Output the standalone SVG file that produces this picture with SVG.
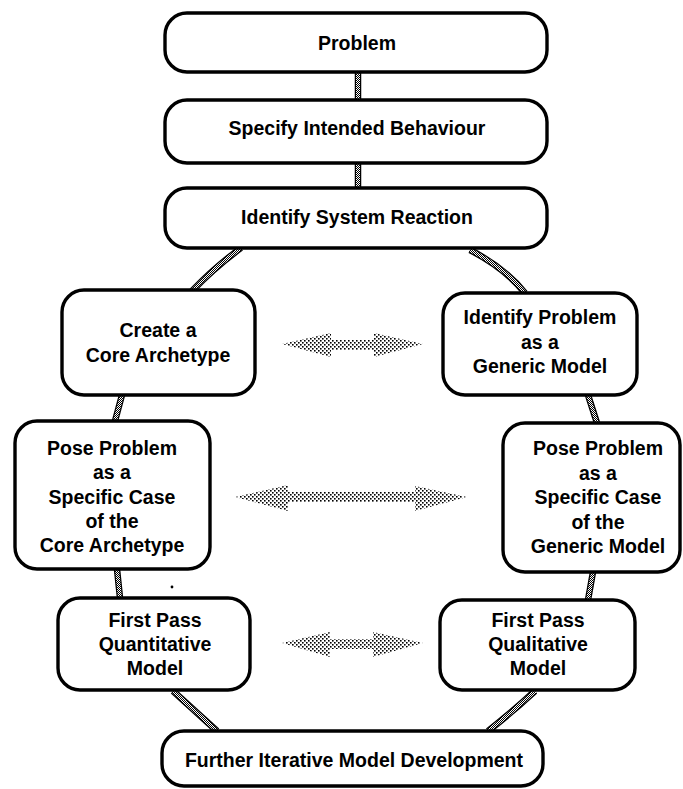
<svg xmlns="http://www.w3.org/2000/svg" width="683" height="789" viewBox="0 0 683 789">
<style>
.box{fill:#fff;stroke:#000;stroke-width:3.4}
.t{font-family:"Liberation Sans",Arial,sans-serif;font-weight:bold;font-size:19.5px;fill:#000;text-anchor:middle}
.conb{fill:none;stroke:#000;stroke-width:6.5}
.con{fill:none;stroke:url(#chk);stroke-width:4}
.arr{fill:url(#dots);stroke:none}
</style>
<defs>
<pattern id="chk" width="2" height="2" patternUnits="userSpaceOnUse">
<rect width="2" height="2" fill="#fff"/>
<rect x="0" y="0" width="1" height="1" fill="#000"/>
<rect x="1" y="1" width="1" height="1" fill="#000"/>
</pattern>
<pattern id="dots" width="4" height="4" patternUnits="userSpaceOnUse">
<rect x="0" y="0" width="1.6" height="1.6" fill="#000"/>
<rect x="2" y="2" width="1.6" height="1.6" fill="#000"/>
</pattern>
<g id="lines">
<path d="M358,72 L358,100"/>
<path d="M358,163 L358,188"/>
<path d="M241,248 Q215,267 192,291"/>
<path d="M470,250 Q505,268 525,293"/>
<path d="M122,395 L115,421"/>
<path d="M588,395 L597,423"/>
<path d="M117,569 L120,598"/>
<path d="M593,572 L588,600"/>
<path d="M173,691 Q196,712 217,731"/>
<path d="M535,691 Q510,714 488,731"/>
</g>
</defs>
<rect width="683" height="789" fill="#fff"/>
<g id="connectors">
<use href="#lines" class="conb"/>
<use href="#lines" class="con"/>
<polygon class="arr" points="282,344 331,333 331,340 374,340 374,333 423,344 374,357 374,350 331,350 331,357"/>
<polygon class="arr" points="235,497 288,485 288,492 415,492 415,486 467,497 415,511 415,502 288,502 288,511"/>
<polygon class="arr" points="282,643 330,632 330,639 373,639 373,632 423,643 373,657 373,649 330,649 330,657"/>
</g>
<g id="n-problem">
<rect class="box" x="165" y="13" width="382" height="59" rx="22"/>
<text class="t" x="357" y="50">Problem</text>
</g>
<g id="n-specify">
<rect class="box" x="165" y="100" width="382" height="63" rx="22"/>
<text class="t" x="357" y="135">Specify Intended Behaviour</text>
</g>
<g id="n-identify-system">
<rect class="box" x="165" y="188" width="382" height="60" rx="22"/>
<text class="t" x="357" y="224">Identify System Reaction</text>
</g>
<g id="n-create">
<rect class="box" x="62" y="290" width="193" height="105" rx="22"/>
<text class="t" x="158" y="337">Create a</text>
<text class="t" x="158" y="362">Core Archetype</text>
</g>
<g id="n-identify-problem">
<rect class="box" x="443" y="293" width="194" height="102" rx="22"/>
<text class="t" x="540" y="324">Identify Problem</text>
<text class="t" x="540" y="349">as a</text>
<text class="t" x="540" y="373">Generic Model</text>
</g>
<g id="n-pose-left">
<rect class="box" x="15" y="421" width="195" height="148" rx="22"/>
<text class="t" x="112" y="455">Pose Problem</text>
<text class="t" x="112" y="479">as a</text>
<text class="t" x="112" y="504">Specific Case</text>
<text class="t" x="112" y="528">of the</text>
<text class="t" x="112" y="552">Core Archetype</text>
</g>
<g id="n-pose-right">
<rect class="box" x="503" y="423" width="177" height="149" rx="22"/>
<text class="t" x="598" y="455">Pose Problem</text>
<text class="t" x="598" y="480">as a</text>
<text class="t" x="598" y="504">Specific Case</text>
<text class="t" x="598" y="529">of the</text>
<text class="t" x="598" y="553">Generic Model</text>
</g>
<g id="n-first-quant">
<rect class="box" x="58" y="598" width="192" height="92" rx="22"/>
<text class="t" x="155" y="627">First Pass</text>
<text class="t" x="155" y="651">Quantitative</text>
<text class="t" x="155" y="675">Model</text>
</g>
<g id="n-first-qual">
<rect class="box" x="440" y="600" width="195" height="90" rx="22"/>
<text class="t" x="538" y="627">First Pass</text>
<text class="t" x="538" y="651">Qualitative</text>
<text class="t" x="538" y="675">Model</text>
</g>
<g id="n-further">
<rect class="box" x="162" y="731" width="381" height="55" rx="22"/>
<text class="t" x="354" y="767">Further Iterative Model Development</text>
</g>
<circle cx="172" cy="587" r="1.4" fill="#000"/>
</svg>
